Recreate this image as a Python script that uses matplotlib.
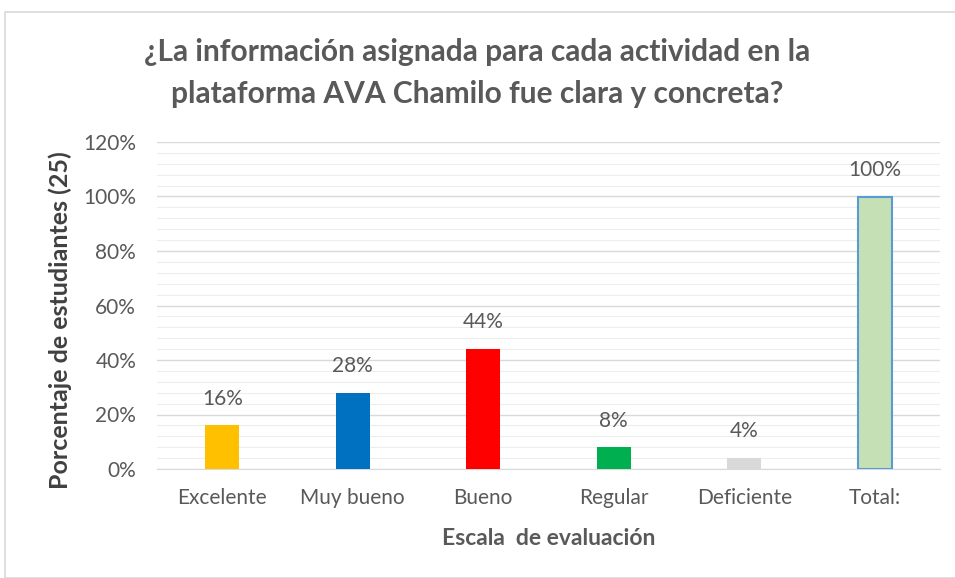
import matplotlib.pyplot as plt
from matplotlib.ticker import MultipleLocator, FuncFormatter
from matplotlib.patches import Rectangle

categories = ["Excelente", "Muy bueno", "Bueno", "Regular", "Deficiente", "Total:"]
values = [0.16, 0.28, 0.44, 0.08, 0.04, 1.00]
labels = ["16%", "28%", "44%", "8%", "4%", "100%"]
colors = ["#FFC000", "#0070C0", "#FF0000", "#00B050", "#D9D9D9", "#C5E0B4"]
edges = ["none", "none", "none", "none", "none", "#5B9BD5"]

plt.rcParams['font.family'] = ['Lato', 'DejaVu Sans']

fig = plt.figure(figsize=(9.55, 5.78), dpi=100)
fig.patches.append(Rectangle((5/955, 0), 1, 1 - 12/578, transform=fig.transFigure,
                             fill=False, edgecolor="#D9D9D9", linewidth=1.2, zorder=0))
ax = fig.add_axes([157/955, 1 - 469/578, (940 - 157)/955, (469 - 142)/578])

x = range(len(categories))
for i in x:
    ax.bar(i, values[i], width=0.26, color=colors[i],
           edgecolor=edges[i], linewidth=1.5 if edges[i] != "none" else 0, zorder=3)
    ax.annotate(labels[i], (i, values[i]), xytext=(0, 12), textcoords="offset points",
                ha="center", va="bottom", fontsize=15, color="#595959")

ax.set_xlim(-0.5, 5.5)
ax.set_ylim(0, 1.2)
ax.yaxis.set_major_locator(MultipleLocator(0.2))
ax.yaxis.set_minor_locator(MultipleLocator(0.04))
ax.yaxis.set_major_formatter(FuncFormatter(lambda v, p: f"{v*100:.0f}%"))
ax.grid(which="major", axis="y", color="#D9D9D9", linewidth=1.0, zorder=0)
ax.grid(which="minor", axis="y", color="#EDEDED", linewidth=0.8, zorder=0)
ax.set_xticks(list(x))
ax.set_xticklabels(categories)
for s in ["top", "right", "left"]:
    ax.spines[s].set_visible(False)
ax.spines["bottom"].set_color("#D9D9D9")
ax.tick_params(axis="both", which="both", length=0, labelsize=15, colors="#595959")
ax.tick_params(axis="y", pad=15)
ax.tick_params(axis="x", pad=14)

fig.text(60/955, 1 - 320/578, "Porcentaje de estudiantes (25)", rotation=90,
         ha="center", va="center", fontsize=18, fontweight="bold", color="#404040")
ax.set_xlabel("Escala  de evaluación", fontsize=16.5, fontweight="bold",
              color="#595959", labelpad=14)

fig.text(0.5, 1 - 52/578, "¿La información asignada para cada actividad en la",
         ha="center", va="center", fontsize=21.5, fontweight="bold", color="#595959")
fig.text(0.5, 1 - 94/578, "plataforma AVA Chamilo fue clara y concreta?",
         ha="center", va="center", fontsize=21.5, fontweight="bold", color="#595959")

fig.savefig("out.png", dpi=100, facecolor="white")
